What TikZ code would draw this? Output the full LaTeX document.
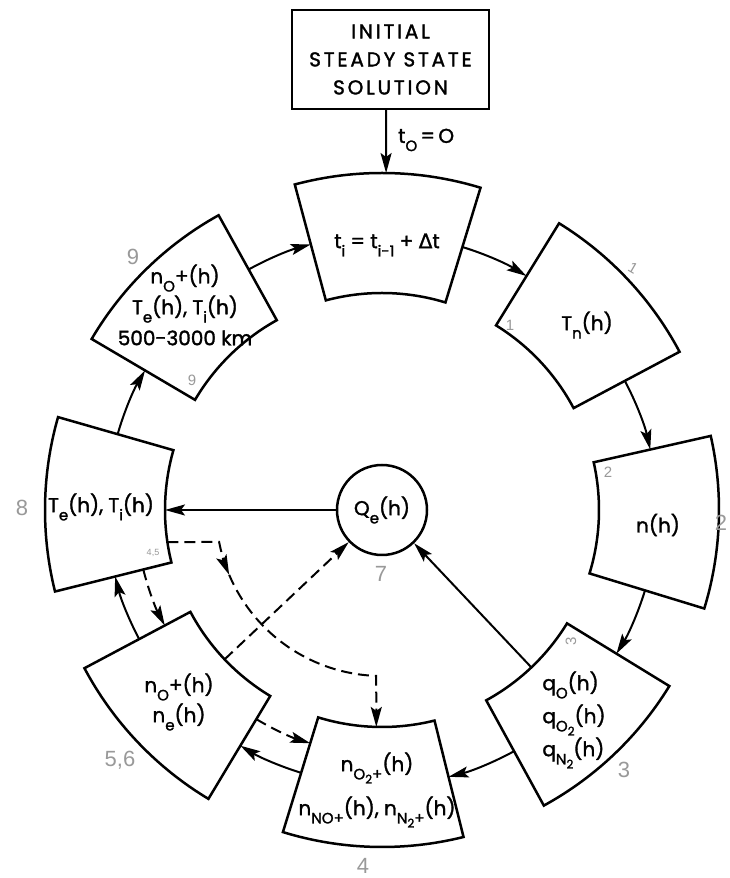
\documentclass[tikz,border=0pt]{standalone}
\usepackage{fontspec}
\setmainfont{Poppins}[FakeBold=1.6]
\newfontfamily\dejavu{DejaVu Sans}[FakeBold=1.2]
\newfontfamily\grayf{Liberation Sans}
\usetikzlibrary{arrows.meta,calc}
\newcommand\lo[1]{\raisebox{-0.75ex}{\fontsize{15}{15}\selectfont #1}}
\newcommand\llo[1]{\raisebox{-0.5ex}{\fontsize{12}{12}\selectfont #1}}
\newcommand\boxsect[2]{\draw[sect] ($(C)+(#1:217)$) arc[start angle=#1,end angle=#2,radius=217] -- ($(C)+(#2:337)$) arc[start angle=#2,end angle=#1,radius=337] -- cycle;}
\begin{document}
\begin{tikzpicture}[x=1pt,y=1pt,
  sect/.style={line width=2.5pt, line join=miter},
  conn/.style={line width=2pt, -{Stealth[length=20pt,width=11pt,inset=4pt]}},
  dconn/.style={conn, dash pattern=on 11pt off 6pt},
  txt/.style={font=\fontsize{20}{31}\selectfont, align=center, inner sep=0pt},
  note/.style={text=black!40, font=\grayf\fontsize{22}{22}\selectfont, inner sep=0pt},
  snote/.style={note, font=\grayf\fontsize{15}{15}\selectfont}]
\useasboundingbox (0,0) rectangle (730,878);
\fill[white] (0,0) rectangle (730,878);
\coordinate (C) at (382,368);
% sector boxes
\boxsect{73}{105}
\boxsect{28}{58.3}
\boxsect{-17}{12.7}
\boxsect{-61.3}{-31.5}
\boxsect{-107.1}{-76}
\boxsect{-152}{-121}
\boxsect{164}{194}
\boxsect{119}{149.5}
% ring arrows
\draw[conn] ($(C)+(73:275)$) arc[start angle=73,end angle=58.3,radius=275];
\draw[conn] ($(C)+(28:275)$) arc[start angle=28,end angle=12.7,radius=275];
\draw[conn] ($(C)+(-17:275)$) arc[start angle=-17,end angle=-31.5,radius=275];
\draw[conn] ($(C)+(-61.3:275)$) arc[start angle=-61.3,end angle=-76,radius=275];
\draw[conn] ($(C)+(-107.1:275)$) arc[start angle=-107.1,end angle=-121,radius=275];
\draw[conn] ($(C)+(-152:275)$) arc[start angle=-152,end angle=-166,radius=275];
\draw[conn] ($(C)+(164:275)$) arc[start angle=164,end angle=149.5,radius=275];
\draw[conn] ($(C)+(119:275)$) arc[start angle=119,end angle=105,radius=275];
% inner dashed arcs
\draw[dconn] ($(C)+(194:246)$) arc[start angle=194,end angle=208,radius=246];
\draw[dconn] ($(C)+(239:244)$) arc[start angle=239,end angle=252.9,radius=244];
\coordinate (a0) at ($(C)+(188.5:217)$);
\coordinate (a1) at ($(C)+(191.1:166)$);
\coordinate (a2) at ($(C)+(203:166)$);
\coordinate (a3) at ($(C)+(268:166)$);
\coordinate (a4) at ($(C)+(268.5:217)$);
\draw[dconn] (a0) -- (a1) arc[start angle=191.1,end angle=203,radius=166];
\draw[dconn] (a2) arc[start angle=203,end angle=268,radius=166] -- (a4);
% centre circle
\node[circle, draw, line width=2.5pt, minimum size=90pt, txt] (Q) at (C) {Q\lo{e}(h)};
\draw[conn] (Q.west) -- ($(C)+(180:217)$);
\draw[conn] ($(C)+(-46.5:217)$) -- (Q.-46.5);
\draw[dconn] ($(C)+(-136.5:217)$) -- (Q.-136.5);
% initial box
\node[draw, line width=2.5pt, minimum width=197pt, minimum height=99pt, txt,
  font=\addfontfeatures{LetterSpace=14}\fontsize{20}{28}\selectfont] (init) at (390.5,818.5) {INITIAL\\STEADY STATE\\SOLUTION};
\coordinate (t0) at (386,769);
\draw[conn] (t0) -- ($(C)+(89.3:337)$);
\node[txt, anchor=west, font=\fontsize{20}{20}\selectfont] (t0lbl) at (398,738) {t\lo{O}\,=\,O};
% box texts
\node[txt] (b0) at (387,633) {t\lo{i} = t\lo{i-1} + {\dejavu Δ}t};
\node[txt] (b1) at (587,553) {T\lo{n}(h)};
\node[txt] (b2) at (658,353) {n(h)};
\node[txt, align=left, font=\fontsize{20}{33}\selectfont] (b3) at (574,158) {q\lo{O}(h)\\q\lo{O\llo{2}}(h)\\q\lo{N\llo{2}}(h)};
\node[txt, font=\fontsize{20}{44}\selectfont] (b4) at (377,88) {n\lo{O\llo{2}+}(h)\\n\lo{NO+}(h), n\lo{N\llo{2}+}(h)};
\node[txt, font=\fontsize{20}{30}\selectfont] (b5) at (179,176) {n\lo{O}+(h)\\n\lo{e}(h)};
\node[txt] (b8) at (101,371) {T\lo{e}(h), T\lo{i}(h)};
\node[txt] (b9) at (185,573) {n\lo{O}+(h)\\T\lo{e}(h), T\lo{i}(h)\\500-3000 km};
% pencil annotations
\node[note] (n9a) at (133,621) {9};
\node[snote] (n9b) at (192,498) {9};
\node[snote, rotate=-30] (n1a) at (633,610) {1};
\node[snote] (n1b) at (510,553) {1};
\node[snote] (n2a) at (608,406) {2};
\node[note] (n2b) at (721,355) {2};
\node[snote, rotate=90] (n3a) at (571,237) {3};
\node[note] (n3b) at (624,108) {3};
\node[note] (n4) at (363,12) {4};
\node[note] (n56) at (120,118) {5,6};
\node[note] (n7) at (381,304) {7};
\node[note] (n8) at (22,370) {8};
\node[snote, font=\grayf\fontsize{9}{9}\selectfont] (n45) at (153,325) {4,5};
\end{tikzpicture}
\end{document}
